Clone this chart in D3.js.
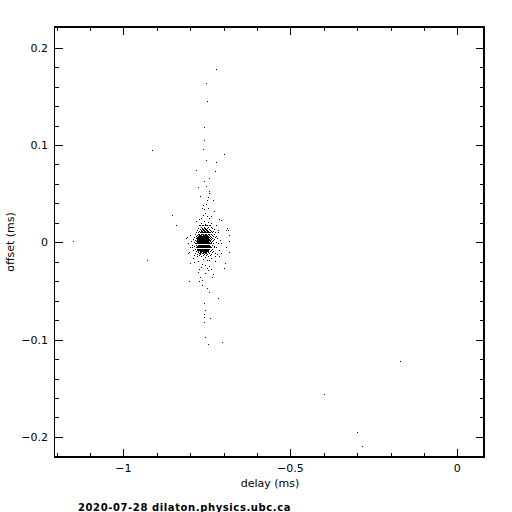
<!DOCTYPE html>
<html>
<head>
<meta charset="utf-8">
<script src="https://cdn.jsdelivr.net/npm/d3@7"></script>
<style>
  html, body { margin: 0; padding: 0; background: #fff; }
  svg { display: block; }
  text { font-family: "DejaVu Sans", sans-serif; fill: #000; }
</style>
</head>
<body>
<svg id="chart" width="512" height="512"></svg>
<script>
/* ========= Data (delay ms, offset ms) ========= */
const xMajorTicks = [-1, -0.5, 0];
const xMajorLabels = ["\u22121", "\u22120.5", "0"];
const yMajorTicks = [-0.2, -0.1, 0, 0.1, 0.2];
const yMajorLabels = ["\u22120.2", "\u22120.1", "0", "0.1", "0.2"];
const footer = "2020-07-28 dilaton.physics.ubc.ca";

// isolated samples and upper tail
const upperPoints = [
  [-1.151, 0.0013], [-0.913, 0.0946], [-0.929, -0.0185], [-0.780, 0.0740], [-0.775, 0.0565],
  [-0.722, 0.1778], [-0.752, 0.1634], [-0.749, 0.1449], [-0.758, 0.1182], [-0.758, 0.1048],
  [-0.761, 0.0956], [-0.698, 0.0904], [-0.752, 0.0843], [-0.720, 0.0822], [-0.723, 0.0730],
  [-0.743, 0.0658], [-0.758, 0.0627], [-0.752, 0.0576], [-0.743, 0.0524], [-0.743, 0.0499],
  [-0.770, 0.0473], [-0.746, 0.0462], [-0.749, 0.0432], [-0.731, 0.0432], [-0.761, 0.0380],
  [-0.752, 0.0391], [-0.764, 0.0349], [-0.758, 0.0339], [-0.746, 0.0349], [-0.728, 0.0319],
  [-0.853, 0.0277], [-0.755, 0.0298], [-0.761, 0.0277], [-0.749, 0.0267], [-0.737, 0.0267],
  [-0.767, 0.0247], [-0.743, 0.0247], [-0.773, 0.0236], [-0.713, 0.0236], [-0.707, 0.0226],
  [-0.782, 0.0216], [-0.758, 0.0216], [-0.746, 0.0206], [-0.767, 0.0195], [-0.755, 0.0185],
  [-0.737, 0.0195], [-0.841, 0.0175]
];

// dense core: one offset per row, delays seen on that row
const clusterRows = [
  [0.0178, [-0.770, -0.764, -0.755, -0.749, -0.743]],
  [0.0168, [-0.773, -0.761, -0.752, -0.740, -0.722]],
  [0.0157, [-0.767, -0.758, -0.746, -0.737]],
  [0.0147, [-0.776, -0.764, -0.758, -0.755, -0.749, -0.734, -0.689]],
  [0.0137, [-0.770, -0.764, -0.761, -0.755, -0.752, -0.743, -0.728]],
  [0.0126, [-0.779, -0.767, -0.761, -0.758, -0.752, -0.749, -0.740, -0.716, -0.692, -0.686]],
  [0.0116, [-0.773, -0.767, -0.764, -0.758, -0.755, -0.749, -0.746, -0.737, -0.731]],
  [0.0106, [-0.782, -0.770, -0.764, -0.761, -0.755, -0.752, -0.746, -0.743, -0.725]],
  [0.0096, [-0.776, -0.770, -0.767, -0.761, -0.758, -0.755, -0.749, -0.746, -0.740, -0.734, -0.716]],
  [0.0085, [-0.785, -0.776, -0.773, -0.767, -0.764, -0.761, -0.755, -0.752, -0.746, -0.743, -0.737, -0.728]],
  [0.0075, [-0.800, -0.779, -0.773, -0.770, -0.767, -0.761, -0.758, -0.755, -0.752, -0.749, -0.743, -0.734, -0.683]],
  [0.0065, [-0.782, -0.776, -0.773, -0.770, -0.767, -0.764, -0.761, -0.758, -0.755, -0.752, -0.749, -0.746, -0.740, -0.731, -0.722]],
  [0.0054, [-0.809, -0.788, -0.779, -0.776, -0.773, -0.770, -0.767, -0.764, -0.761, -0.758, -0.755, -0.752, -0.749, -0.746, -0.743, -0.737, -0.725]],
  [0.0044, [-0.812, -0.782, -0.779, -0.776, -0.773, -0.770, -0.767, -0.764, -0.761, -0.758, -0.755, -0.752, -0.749, -0.746, -0.740, -0.734, -0.719]],
  [0.0034, [-0.791, -0.779, -0.776, -0.773, -0.770, -0.767, -0.764, -0.761, -0.758, -0.755, -0.752, -0.749, -0.746, -0.743, -0.737, -0.728]],
  [0.0024, [-0.785, -0.779, -0.776, -0.773, -0.770, -0.767, -0.764, -0.761, -0.758, -0.755, -0.752, -0.749, -0.746, -0.743, -0.740, -0.731, -0.710]],
  [0.0013, [-0.797, -0.782, -0.779, -0.776, -0.773, -0.770, -0.767, -0.764, -0.761, -0.758, -0.755, -0.752, -0.749, -0.746, -0.740, -0.734, -0.683]],
  [0.0003, [-0.788, -0.779, -0.776, -0.773, -0.770, -0.767, -0.764, -0.761, -0.758, -0.755, -0.752, -0.749, -0.746, -0.743, -0.737, -0.722]],
  [-0.0007, [-0.806, -0.782, -0.776, -0.773, -0.770, -0.767, -0.764, -0.761, -0.758, -0.755, -0.752, -0.749, -0.746, -0.743, -0.740, -0.731, -0.707]],
  [-0.0017, [-0.785, -0.779, -0.776, -0.773, -0.770, -0.767, -0.764, -0.761, -0.758, -0.755, -0.752, -0.749, -0.746, -0.743, -0.737, -0.716]],
  [-0.0028, [-0.794, -0.782, -0.776, -0.773, -0.770, -0.767, -0.764, -0.761, -0.758, -0.755, -0.752, -0.749, -0.746, -0.743, -0.734]],
  [-0.0038, [-0.788, -0.779, -0.776, -0.773, -0.770, -0.767, -0.764, -0.761, -0.758, -0.755, -0.752, -0.749, -0.746, -0.743, -0.740, -0.728]],
  [-0.0048, [-0.800, -0.782, -0.779, -0.776, -0.773, -0.770, -0.767, -0.764, -0.761, -0.758, -0.755, -0.752, -0.749, -0.746, -0.743, -0.737, -0.722]],
  [-0.0058, [-0.794, -0.779, -0.776, -0.773, -0.770, -0.767, -0.764, -0.761, -0.758, -0.755, -0.752, -0.749, -0.746, -0.740, -0.728, -0.692]],
  [-0.0069, [-0.785, -0.779, -0.776, -0.773, -0.770, -0.767, -0.764, -0.761, -0.758, -0.755, -0.752, -0.749, -0.746, -0.743, -0.734]],
  [-0.0079, [-0.791, -0.779, -0.776, -0.773, -0.770, -0.767, -0.764, -0.761, -0.758, -0.755, -0.752, -0.749, -0.746, -0.737, -0.713]],
  [-0.0089, [-0.782, -0.776, -0.770, -0.767, -0.764, -0.761, -0.758, -0.755, -0.752, -0.749, -0.746, -0.740, -0.731]],
  [-0.0100, [-0.803, -0.776, -0.770, -0.767, -0.761, -0.758, -0.755, -0.752, -0.746, -0.734, -0.683]],
  [-0.0110, [-0.806, -0.785, -0.773, -0.770, -0.764, -0.761, -0.755, -0.752, -0.743, -0.725, -0.707]],
  [-0.0120, [-0.779, -0.770, -0.758, -0.749, -0.737, -0.719]],
  [-0.0131, [-0.788, -0.773, -0.761, -0.752, -0.740]]
];

// lower tail and far outliers
const lowerPoints = [
  [-0.778, -0.0144], [-0.767, -0.0144], [-0.755, -0.0154], [-0.746, -0.0144], [-0.737, -0.0164],
  [-0.725, -0.0144], [-0.713, -0.0144], [-0.761, -0.0175], [-0.749, -0.0185], [-0.743, -0.0185],
  [-0.725, -0.0195], [-0.787, -0.0206], [-0.775, -0.0195], [-0.799, -0.0216], [-0.695, -0.0216],
  [-0.764, -0.0226], [-0.755, -0.0236], [-0.743, -0.0247], [-0.767, -0.0257], [-0.749, -0.0267],
  [-0.737, -0.0277], [-0.773, -0.0277], [-0.698, -0.0267], [-0.746, -0.0288], [-0.775, -0.0308],
  [-0.731, -0.0329], [-0.755, -0.0319], [-0.734, -0.0360], [-0.770, -0.0360], [-0.802, -0.0401],
  [-0.773, -0.0401], [-0.764, -0.0391], [-0.764, -0.0442], [-0.749, -0.0473], [-0.743, -0.0514],
  [-0.790, -0.0164],
  [-0.716, -0.0576], [-0.758, -0.0627], [-0.755, -0.0699], [-0.758, -0.0740], [-0.758, -0.0771],
  [-0.739, -0.0781], [-0.758, -0.0822], [-0.755, -0.0976], [-0.704, -0.1028], [-0.746, -0.1048],
  [-0.171, -0.1223], [-0.398, -0.1562], [-0.299, -0.1953], [-0.284, -0.2097]
];

/* ========= Render ========= */
const svg = d3.select("#chart");
const W = 512, H = 512;
const plot = { left: 54.5, right: 484, top: 27, bottom: 457 };

const x = d3.scaleLinear().domain([-1.2066, 0.08]).range([plot.left, plot.right]);
const y = d3.scaleLinear().domain([-0.2206, 0.2213]).range([plot.bottom, plot.top]);

svg.append("rect").attr("width", W).attr("height", H).attr("fill", "#fff");

const points = upperPoints
  .concat(clusterRows.flatMap(([off, delays]) => delays.map(d => [d, off])))
  .concat(lowerPoints);

// dots (1px, like the pgplot output)
svg.append("g").attr("shape-rendering", "crispEdges")
  .selectAll("rect").data(points).join("rect")
  .attr("x", d => Math.floor(x(d[0])))
  .attr("y", d => Math.floor(y(d[1])))
  .attr("width", 1).attr("height", 1)
  .attr("fill", "#000");

// ticks, inward on all four sides
const xMinor = d3.range(-12, 1).map(i => i / 10);
const yMinor = d3.range(-10, 11).map(i => i / 50);
const isMajor = (v, list) => list.some(m => Math.abs(m - v) < 1e-9);
const tickG = svg.append("g").attr("stroke", "#000").attr("stroke-width", 1.3).attr("shape-rendering", "crispEdges");

xMinor.forEach(v => {
  const len = isMajor(v, xMajorTicks) ? 8 : 4;
  const px = Math.round(x(v)) + 0.5;
  tickG.append("line").attr("x1", px).attr("x2", px).attr("y1", plot.bottom).attr("y2", plot.bottom - len);
  tickG.append("line").attr("x1", px).attr("x2", px).attr("y1", plot.top).attr("y2", plot.top + len);
});
yMinor.forEach(v => {
  const len = isMajor(v, yMajorTicks) ? 8 : 4;
  const py = Math.round(y(v)) + 0.5;
  tickG.append("line").attr("y1", py).attr("y2", py).attr("x1", plot.left).attr("x2", plot.left + len);
  tickG.append("line").attr("y1", py).attr("y2", py).attr("x1", plot.right).attr("x2", plot.right - len);
});

// frame
svg.append("rect")
  .attr("x", plot.left).attr("y", plot.top)
  .attr("width", plot.right - plot.left).attr("height", plot.bottom - plot.top)
  .attr("fill", "none").attr("stroke", "#000").attr("stroke-width", 1.3).attr("shape-rendering", "crispEdges");

// tick labels
xMajorTicks.forEach((v, i) => {
  svg.append("text").attr("x", x(v)).attr("y", 472)
    .attr("text-anchor", "middle").attr("font-size", 11).text(xMajorLabels[i]);
});
yMajorTicks.forEach((v, i) => {
  svg.append("text").attr("x", 48).attr("y", y(v) + 4)
    .attr("text-anchor", "end").attr("font-size", 11).text(yMajorLabels[i]);
});

// axis titles
svg.append("text").attr("x", 270).attr("y", 487)
  .attr("text-anchor", "middle").attr("font-size", 11).text("delay (ms)");
svg.append("text").attr("transform", "translate(14,242) rotate(-90)")
  .attr("text-anchor", "middle").attr("font-size", 11).text("offset (ms)");

// footer
svg.append("text").attr("x", 78).attr("y", 511)
  .attr("font-size", 10).attr("font-weight", "bold").attr("letter-spacing", 0.6)
  .attr("font-family", "'DejaVu Serif', serif").text(footer);
</script>
</body>
</html>
